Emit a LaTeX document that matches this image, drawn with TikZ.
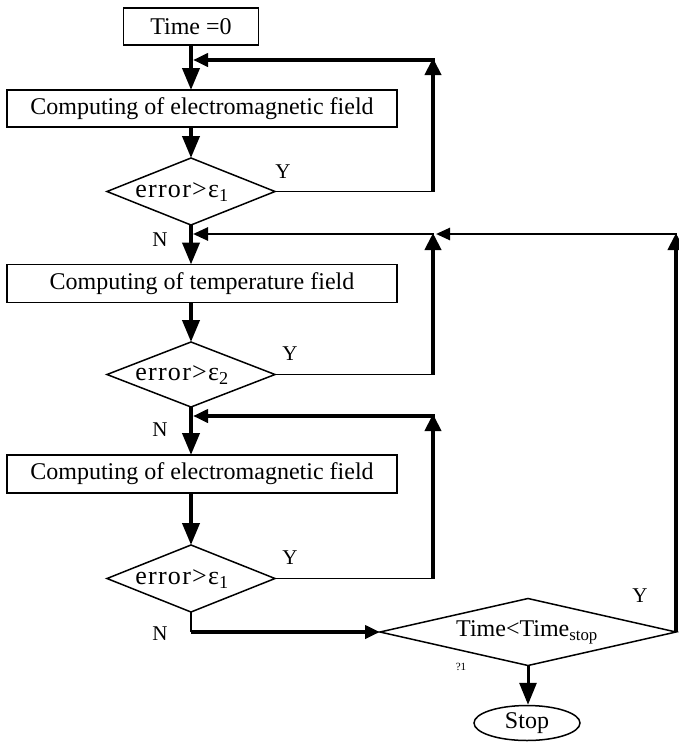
\documentclass[tikz,border=0pt]{standalone}
\usepackage{fontspec}
\setmainfont{Liberation Serif}
\newfontfamily\spacedfont[LetterSpace=5]{Liberation Serif}
\usetikzlibrary{shapes.geometric,arrows.meta}
\begin{document}
\begin{tikzpicture}[x=1pt,y=-1pt,
  box/.style={draw,line width=1.5pt,rectangle,inner sep=0pt,outer sep=0pt,minimum height=37pt,font=\fontsize{24}{28}\selectfont},
  dia/.style={draw,line width=1.5pt,diamond,inner sep=0pt,outer sep=0pt},
  dtext/.style={font=\fontsize{26}{30}\spacedfont,inner sep=0pt},
  lab/.style={font=\fontsize{21}{25}\selectfont,inner sep=0pt},
  thk/.style={line width=4pt},
  thn/.style={line width=1.6pt},
  med/.style={line width=2.6pt},
  arrD/.style={-{Triangle[length=22pt,width=17pt]}},
  arrU/.style={-{Triangle[length=17pt,width=16pt]}},
  arrL/.style={-{Triangle[length=15pt,width=13pt]}},
  arrS/.style={-{Triangle[length=14pt,width=12pt]}}
]
\useasboundingbox (0,0) rectangle (678,742);

% nodes
\node[box,minimum width=135pt] (t0) at (191,26.5) {Time =0};
\node[box,minimum width=390pt] (b1) at (202,108.5) {Computing of electromagnetic field};
\node[dia,minimum width=168pt,minimum height=67pt] (d1) at (191,191.5) {};
\node[dtext] (l1) at (182,192) {error>ε\textsubscript{1}};
\node[box,minimum width=390pt,minimum height=38pt] (b2) at (202,283.5) {Computing of temperature field};
\node[dia,minimum width=168pt,minimum height=65pt] (d2) at (191,374.5) {};
\node[dtext] (l2) at (182,375) {error>ε\textsubscript{2}};
\node[box,minimum width=390pt,minimum height=38pt] (b3) at (202,474) {Computing of electromagnetic field};
\node[dia,minimum width=168pt,minimum height=67pt] (d3) at (191,578.5) {};
\node[dtext] (l3) at (182,579) {error>ε\textsubscript{1}};
\node[dia,minimum width=296pt,minimum height=67pt] (d4) at (528,632) {};
\node[font=\fontsize{24}{28}\selectfont,inner sep=0pt] (l4) at (527,632) {Time<Time\textsubscript{stop}};
\node[draw,ellipse,line width=1.5pt,inner sep=0pt,minimum width=106pt,minimum height=35pt,font=\fontsize{24}{28}\selectfont] (stop) at (527,723) {Stop};

% labels
\node[lab] (y1) at (283,172) {Y};
\node[lab] (y2) at (290,354) {Y};
\node[lab] (y3) at (290,558) {Y};
\node[lab] (y4) at (640,596) {Y};
\node[lab] (n1) at (160,240) {N};
\node[lab] (n2) at (160,430) {N};
\node[lab] (n3) at (160,634) {N};
\node[font=\fontsize{11}{13}\selectfont,inner sep=0pt] (q1) at (461,667) {?1};

% helper coordinates
\coordinate (c1) at (433,191.5);
\coordinate (c1t) at (433,58);
\coordinate (h1) at (435,60);
\coordinate (j1) at (193,60);
\coordinate (c2) at (433,374.5);
\coordinate (c2t) at (433,233);
\coordinate (h2) at (434,234);
\coordinate (j2) at (193,234);
\coordinate (r1) at (676,233);
\coordinate (r2) at (677,234);
\coordinate (k2) at (436,234);
\coordinate (c3) at (433,578.5);
\coordinate (c3t) at (433,414);
\coordinate (h3) at (435,416);
\coordinate (j3) at (193,416);
\coordinate (m3) at (191,632);

% main flow
\draw[thk,arrD] (t0.south) -- (b1.north -| t0.south);
\draw[thk,arrD] (b1.south -| d1.north) -- (d1.north);
\draw[thk,arrD] (d1.south) -- (b2.north -| d1.south);
\draw[thk,arrD] (b2.south -| d2.north) -- (d2.north);
\draw[thk,arrD] (d2.south) -- (b3.north -| d2.south);
\draw[thk,arrD] (b3.south -| d3.north) -- (d3.north);

% loop 1
\draw[thn] (d1.east) -- (c1);
\draw[thk,arrU] (c1) -- (c1t);
\draw[thk,arrL] (h1) -- (j1);

% loop 2
\draw[thn] (d2.east) -- (c2);
\draw[thk,arrU] (c2) -- (c2t);
\draw[med,arrL] (h2) -- (j2);

% loop 3
\draw[thn] (d3.east) -- (c3);
\draw[thk,arrU] (c3) -- (c3t);
\draw[thk,arrL] (h3) -- (j3);

% time loop
\draw[thk,arrU] (d4.east) -- (r1);
\draw[med,arrS] (r2) -- (k2);

% exit
\draw[thn] (d3.south) -- (m3);
\draw[thk,arrL] (m3) -- (d4.west);
\draw[line width=3pt,arrD] (d4.south) -- (stop.north -| d4.south);
\end{tikzpicture}
\end{document}
